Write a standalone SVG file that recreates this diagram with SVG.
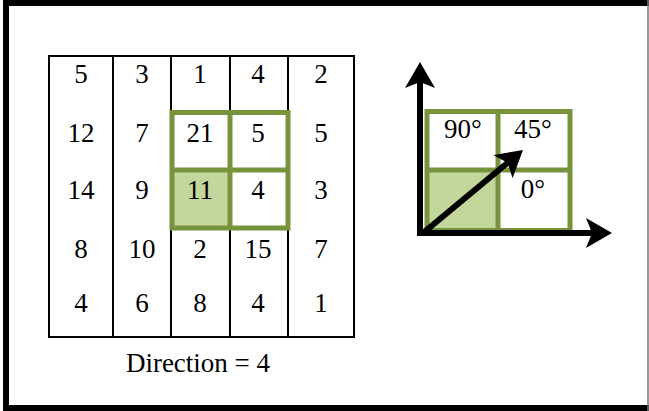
<svg xmlns="http://www.w3.org/2000/svg" width="649" height="411" viewBox="0 0 649 411">
<defs>
<style>
.t{font-family:"Liberation Serif","Times New Roman",serif;font-size:27px;fill:#000;text-anchor:middle}
.g{stroke:#77933C;stroke-width:5;fill:none}
.thin{stroke:#000;stroke-width:2;fill:none}
.ax{stroke:#000;stroke-width:6;fill:none}
</style>
<marker id="ah" viewBox="0 0 26 30" refX="6" refY="15" markerWidth="26" markerHeight="30" markerUnits="userSpaceOnUse" orient="auto">
<path d="M0,0 L26,15 L0,30 L6,15 Z" fill="#000"/>
</marker>
</defs>
<rect x="0" y="0" width="649" height="411" fill="#fff"/>
<rect x="6" y="3" width="648" height="405" fill="none" stroke="#000" stroke-width="6"/>
<line x1="648" y1="0" x2="648" y2="411" stroke="#777" stroke-width="1.5"/>
<g id="grid">
<rect x="49" y="56" width="305" height="281" class="thin"/>
<line x1="113" y1="56" x2="113" y2="337" class="thin"/>
<line x1="171" y1="56" x2="171" y2="337" class="thin"/>
<line x1="230" y1="56" x2="230" y2="337" class="thin"/>
<line x1="288" y1="56" x2="288" y2="337" class="thin"/>
<rect x="172" y="170" width="58" height="58" fill="#C3D69B"/>
<rect x="172" y="112.5" width="116" height="115.5" class="g"/>
<line x1="230" y1="112.5" x2="230" y2="228" class="g"/>
<line x1="172" y1="170" x2="288" y2="170" class="g"/>
</g>
<g id="numbers">
<text class="t" x="81" y="83">5</text><text class="t" x="142" y="83">3</text><text class="t" x="200" y="83">1</text><text class="t" x="258" y="83">4</text><text class="t" x="321" y="83">2</text>
<text class="t" x="81" y="142">12</text><text class="t" x="142" y="142">7</text><text class="t" x="200" y="142">21</text><text class="t" x="258" y="142">5</text><text class="t" x="321" y="142">5</text>
<text class="t" x="81" y="199">14</text><text class="t" x="142" y="199">9</text><text class="t" x="200" y="199">11</text><text class="t" x="258" y="199">4</text><text class="t" x="321" y="199">3</text>
<text class="t" x="81" y="258">8</text><text class="t" x="142" y="258">10</text><text class="t" x="200" y="258">2</text><text class="t" x="258" y="258">15</text><text class="t" x="321" y="258">7</text>
<text class="t" x="81" y="312">4</text><text class="t" x="142" y="312">6</text><text class="t" x="200" y="312">8</text><text class="t" x="258" y="312">4</text><text class="t" x="321" y="312">1</text>
</g>
<g id="caption"><text class="t" x="198" y="372">Direction = 4</text></g>
<g id="compass">
<rect x="427" y="170" width="71" height="60" fill="#C3D69B"/>
<rect x="427" y="111.5" width="143" height="119" class="g"/>
<line x1="498" y1="111.5" x2="498" y2="230.5" class="g"/>
<line x1="427" y1="170" x2="570" y2="170" class="g"/>
<text class="t" x="463" y="138">90°</text>
<text class="t" x="533" y="138">45°</text>
<text class="t" x="533" y="198">0°</text>
</g>
<g id="connectors">
<line x1="420" y1="236" x2="420" y2="82" class="ax" marker-end="url(#ah)"/>
<line x1="417" y1="233" x2="592" y2="233" class="ax" marker-end="url(#ah)"/>
<line x1="423" y1="233" x2="507.6" y2="162.8" class="ax" marker-end="url(#ah)"/>
</g>
</svg>
